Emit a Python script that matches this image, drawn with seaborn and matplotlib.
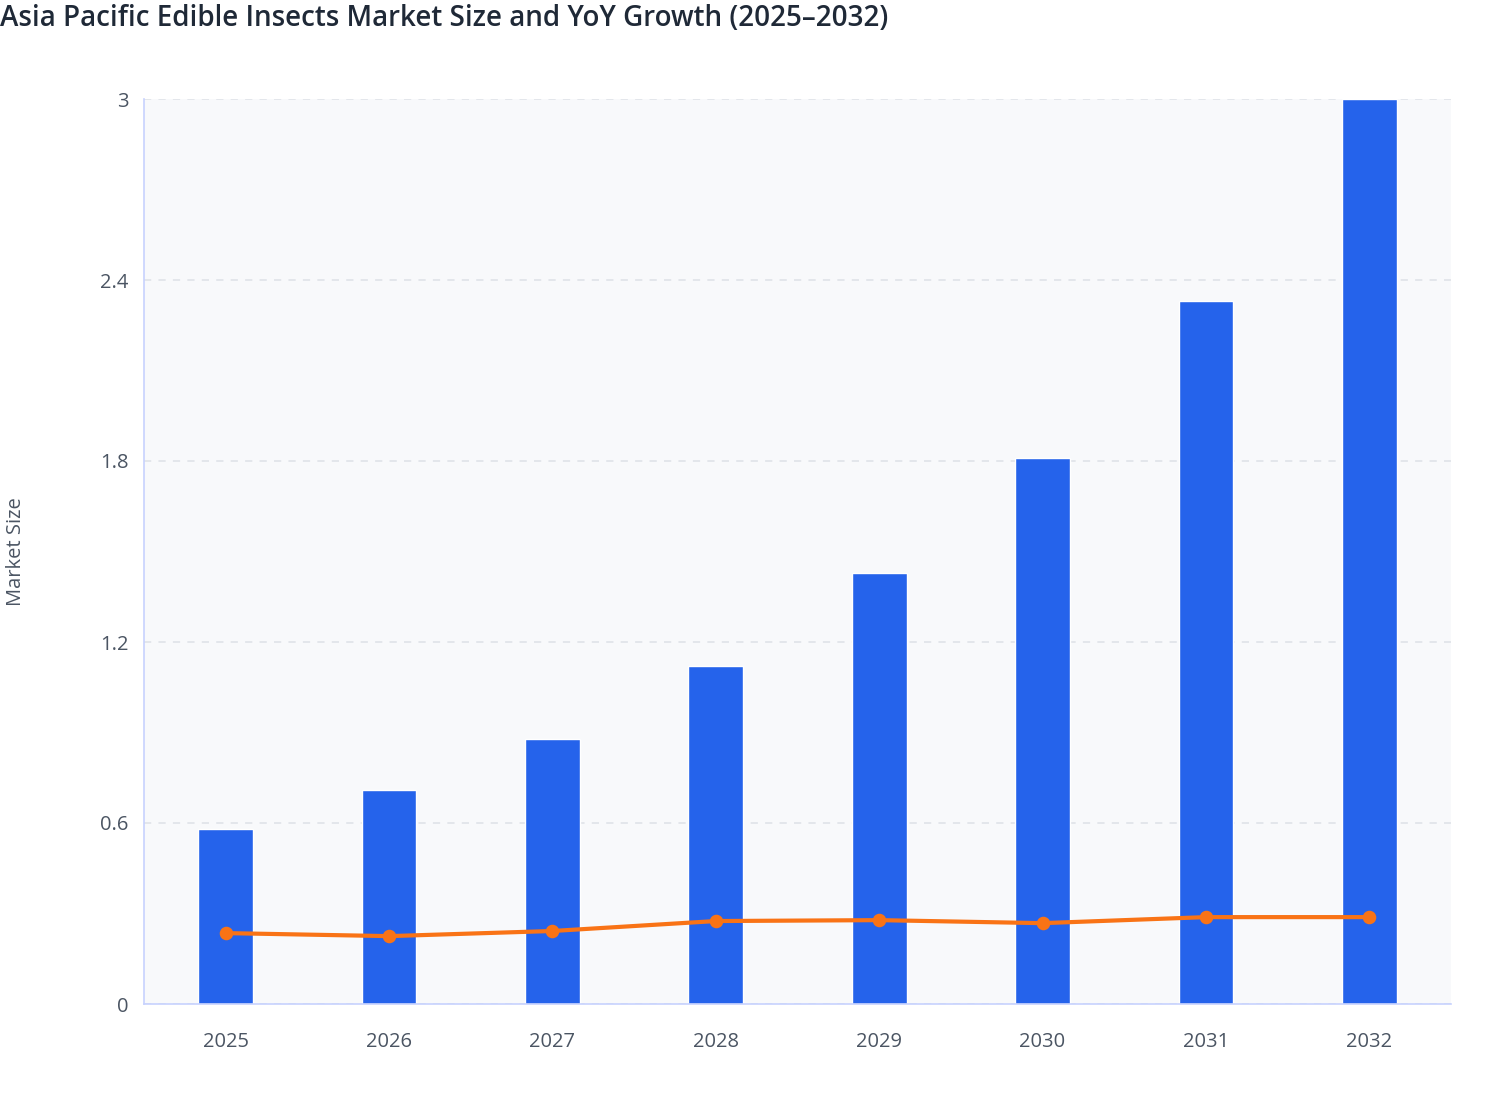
import matplotlib
matplotlib.use("Agg")
import matplotlib.pyplot as plt
import seaborn as sns
import numpy as np

years = ["2025", "2026", "2027", "2028", "2029", "2030", "2031", "2032"]
market_size = [0.58, 0.71, 0.88, 1.12, 1.43, 1.81, 2.33, 3.00]
yoy_growth = [0.235, 0.225, 0.242, 0.275, 0.278, 0.268, 0.288, 0.288]
y_ticks = [0, 0.6, 1.2, 1.8, 2.4, 3]
y_tick_labels = ["0", "0.6", "1.2", "1.8", "2.4", "3"]

sns.set_theme(style="white")
plt.rcParams['font.family'] = ['Open Sans', 'DejaVu Sans']

W, H = 1508, 1120
fig = plt.figure(figsize=(W / 100, H / 100), dpi=100)
ax = fig.add_axes([144 / W, 1 - 1004 / H, (1451 - 144) / W, (1004 - 99) / H])
ax.set_facecolor("#f8f9fb")

sns.barplot(x=years, y=market_size, color="#2563eb", width=0.335, saturation=1,
            ax=ax, zorder=2)
sns.pointplot(x=years, y=yoy_growth, color="#f97316", markers="o",
              markersize=7.5, linewidth=3, errorbar=None, ax=ax, zorder=3)

ax.set_xlim(-0.5, 7.5)
ax.set_ylim(0, 3)
ax.set_yticks(y_ticks)
ax.set_yticklabels(y_tick_labels)
ax.yaxis.grid(True, color="#e1e4ea", linestyle=(0, (4, 4)), linewidth=1.3)
ax.set_axisbelow(True)
ax.xaxis.grid(False)

for s in ["top", "right"]:
    ax.spines[s].set_visible(False)
for s in ["left", "bottom"]:
    ax.spines[s].set_color("#c7d2fe")
    ax.spines[s].set_linewidth(1.2)

ax.tick_params(axis="both", colors="#c7d2fe", length=7, width=1.2,
               labelcolor="#4b5563", labelsize=14.5)
ax.tick_params(axis="x", pad=13)
ax.tick_params(axis="y", pad=4)
ax.set_xlabel("")
ax.set_ylabel("Market Size", fontsize=14.5, color="#4b5563", labelpad=0)
ax.yaxis.set_label_coords((26 - 144) / (1451 - 144), 0.5)

fig.text(0.0, 1 - 19 / H, "Asia Pacific Edible Insects Market Size and YoY Growth (2025–2032)",
         fontsize=20, fontweight="semibold", color="#1f2937", ha="left", va="center")

fig.savefig("out.png", dpi=100)
